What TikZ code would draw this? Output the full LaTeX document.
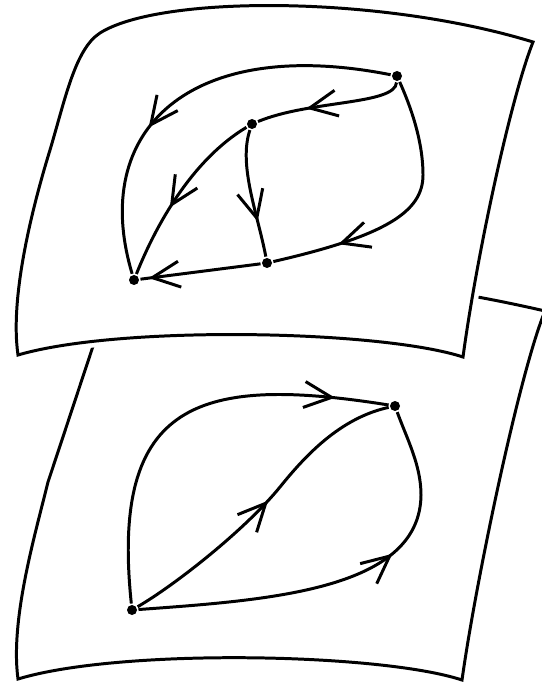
\documentclass[tikz,border=0pt]{standalone}
\usepackage{tikz}
\usetikzlibrary{arrows.meta, decorations.markings}

\begin{document}
\begin{tikzpicture}[x=0.02cm, y=-0.02cm, line width=1.7pt,
  dot/.style={circle, fill, inner sep=0pt, minimum size=0.2cm},
  flow/.style={postaction={decorate}, decoration={markings,
    mark=at position #1 with {\arrow{Straight Barb[length=0.55cm, width=0.52cm]}}}},
  sheet/.style={fill=white, preaction={draw=white, line width=7pt}}]
\useasboundingbox (0,0) rectangle (541,682);

% lower sheet, partly hidden
\draw[sheet] (18,679) .. controls (10,620) and (35,535) .. (48,482)
  .. controls (62,440) and (95,340) .. (110,295)
  .. controls (200,250) and (420,282) .. (545,311)
  .. controls (520,371) and (476,580) .. (462,680)
  .. controls (380,653) and (120,648) .. cycle;

\node[dot] (E) at (395,406) {};
\node[dot] (F) at (132,610) {};
\draw[flow=0.87] (F) .. controls (110,400) and (200,375) .. (E);
\draw[flow=0.52] (F) .. controls (175,585) and (245,530) .. (280,487)
  .. controls (305,456) and (340,418) .. (E);
\draw[flow=0.63] (F) .. controls (270,600) and (420,590) .. (421,495)
  .. controls (421,465) and (407,439) .. (E);

% upper sheet
\draw[sheet] (18,355) .. controls (10,300) and (30,215) .. (50,150)
  .. controls (65,100) and (75,49) .. (100,33)
  .. controls (160,-5) and (380,-5) .. (533,42)
  .. controls (510,100) and (476,260) .. (463,357)
  .. controls (380,330) and (120,325) .. cycle;

\node[dot] (A) at (397,76) {};
\node[dot] (B) at (252,124) {};
\node[dot] (C) at (267,263) {};
\node[dot] (D) at (134,280) {};
\draw[flow=0.63] (A) .. controls (190,35) and (89,130) .. (D);
\draw[flow=0.66] (A) .. controls (395,105) and (310,100) .. (B);
\draw[flow=0.6] (B) .. controls (192,160) and (156,225) .. (D);
\draw[flow=0.72] (B) .. controls (238,165) and (258,215) .. (C);
\draw[flow=0.76] (A) .. controls (410,105) and (423,140) .. (423,175)
  .. controls (423,212) and (385,236) .. (C);
\draw[flow=0.93] (C) -- (D);
\end{tikzpicture}
\end{document}
